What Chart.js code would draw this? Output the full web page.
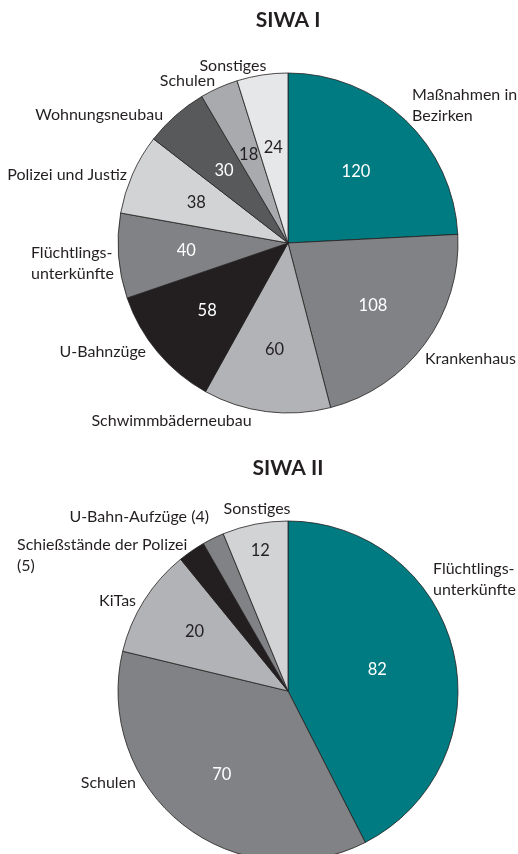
<!DOCTYPE html>
<html lang="de">
<head>
  <meta charset="UTF-8">
  <title>SIWA I / SIWA II</title>
  <script src="https://cdn.jsdelivr.net/npm/chart.js"></script>
  <style>
    body {
      margin: 0;
      background: #fff;
      overflow: hidden;
      width: 518px;
      height: 854px;
      position: relative;
    }
    canvas {
      position: absolute;
      left: 0;
    }
    #siwa1 { top: 0; }
    #siwa2 { top: 448px; }
  </style>
</head>
<body>

<canvas id="siwa1" width="518" height="440"></canvas>
<canvas id="siwa2" width="518" height="440"></canvas>

<script>
// SIWA I
const siwa1Labels = [
  ["Maßnahmen in", "Bezirken"], "Krankenhaus", "Schwimmbäderneubau", "U-Bahnzüge",
  ["Flüchtlings-", "unterkünfte"], "Polizei und Justiz", "Wohnungsneubau", "Schulen", "Sonstiges"
];
const siwa1Values = [120, 108, 60, 58, 40, 38, 30, 18, 24];

// SIWA II
const siwa2Labels = [
  ["Flüchtlings-", "unterkünfte"], "Schulen", "KiTas",
  ["Schießstände der Polizei", "(5)"], "U-Bahn-Aufzüge (4)", "Sonstiges"
];
const siwa2Values = [82, 70, 20, 5, 4, 12];
const siwa2ShowValue = [true, true, true, false, false, true];

const TEAL = '#007b82';
const DARK = '#231f20';
const siwa1Colors = [TEAL, '#808285', '#b2b3b6', DARK, '#808285', '#d2d3d5', '#58595b', '#a8aaad', '#e6e7e8'];
const siwa2Colors = [TEAL, '#808285', '#b2b3b6', DARK, '#808285', '#d2d3d5'];
const siwa1ValueColors = ['#fff', '#fff', DARK, '#fff', '#fff', DARK, '#fff', DARK, DARK];
const siwa2ValueColors = ['#fff', '#fff', DARK, '#fff', '#fff', DARK];

// label placement relative to pie centre, in units of the radius: [dx, dy, align]
const siwa1Place = [
  [0.73, -0.87, 'left'], [0.806, 0.682, 'left'], [-0.685, 1.047, 'center'], [-0.835, 0.641, 'right'],
  [-1.512, 0.055, 'left'], [-0.947, -0.40, 'right'], [-0.735, -0.753, 'right'], [-0.429, -0.953, 'right'],
  [-0.324, -1.041, 'center']
];
const siwa2Place = [
  [0.853, -0.718, 'left'], [-0.894, 0.541, 'right'], [-0.894, -0.53, 'right'],
  [-1.594, -0.859, 'left'], [-0.465, -1.024, 'right'], [-0.182, -1.071, 'center']
];
const siwa1ValueRadius = [0.58, 0.62, 0.63, 0.62, 0.6, 0.59, 0.57, 0.57, 0.57];
const siwa2ValueRadius = [0.54, 0.63, 0.65, 0, 0, 0.84];

const FONT = 'Lato, "Open Sans", sans-serif';

const pieLabels = {
  id: 'pieLabels',
  afterDatasetsDraw(chart, args, opts) {
    const ctx = chart.ctx;
    const arcs = chart.getDatasetMeta(0).data;
    ctx.save();
    ctx.textBaseline = 'middle';
    arcs.forEach((arc, i) => {
      const { x, y, outerRadius, startAngle, endAngle } = arc.getProps(['x', 'y', 'outerRadius', 'startAngle', 'endAngle'], true);
      const mid = (startAngle + endAngle) / 2;
      // value inside the slice
      if (!opts.showValue || opts.showValue[i]) {
        const r = outerRadius * opts.valueRadius[i];
        ctx.font = '16.5px ' + FONT;
        ctx.fillStyle = opts.valueColors[i];
        ctx.textAlign = 'center';
        ctx.fillText(String(opts.values[i]), x + Math.cos(mid) * r, y + Math.sin(mid) * r);
      }
      // category label outside
      const p = opts.place[i];
      const lines = [].concat(chart.data.labels[i]);
      ctx.font = '16px ' + FONT;
      ctx.fillStyle = DARK;
      ctx.textAlign = p[2];
      lines.forEach((line, k) => {
        ctx.fillText(line, x + p[0] * outerRadius, y + p[1] * outerRadius + k * 21);
      });
    });
    ctx.restore();
  }
};

function makePie(id, title, labels, values, colors, labelOpts) {
  return new Chart(document.getElementById(id), {
    type: 'pie',
    data: {
      labels: labels,
      datasets: [{
        data: values,
        backgroundColor: colors,
        borderColor: DARK,
        borderWidth: 0.8,
        hoverOffset: 0
      }]
    },
    options: {
      responsive: false,
      animation: false,
      radius: 170,
      layout: { padding: { left: 88, right: 30, top: 0, bottom: 22 } },
      plugins: {
        legend: { display: false },
        tooltip: { enabled: false },
        title: {
          display: true,
          text: title,
          color: DARK,
          font: { family: FONT, size: 21, weight: 'bold', lineHeight: 1.2 },
          padding: { top: 7.4, bottom: 35.4 }
        },
        pieLabels: Object.assign({ values: values }, labelOpts)
      }
    },
    plugins: [pieLabels]
  });
}

makePie('siwa1', 'SIWA I', siwa1Labels, siwa1Values, siwa1Colors, {
  place: siwa1Place, valueRadius: siwa1ValueRadius, valueColors: siwa1ValueColors
});
makePie('siwa2', 'SIWA II', siwa2Labels, siwa2Values, siwa2Colors, {
  place: siwa2Place, valueRadius: siwa2ValueRadius, valueColors: siwa2ValueColors, showValue: siwa2ShowValue
});
</script>

</body>
</html>
